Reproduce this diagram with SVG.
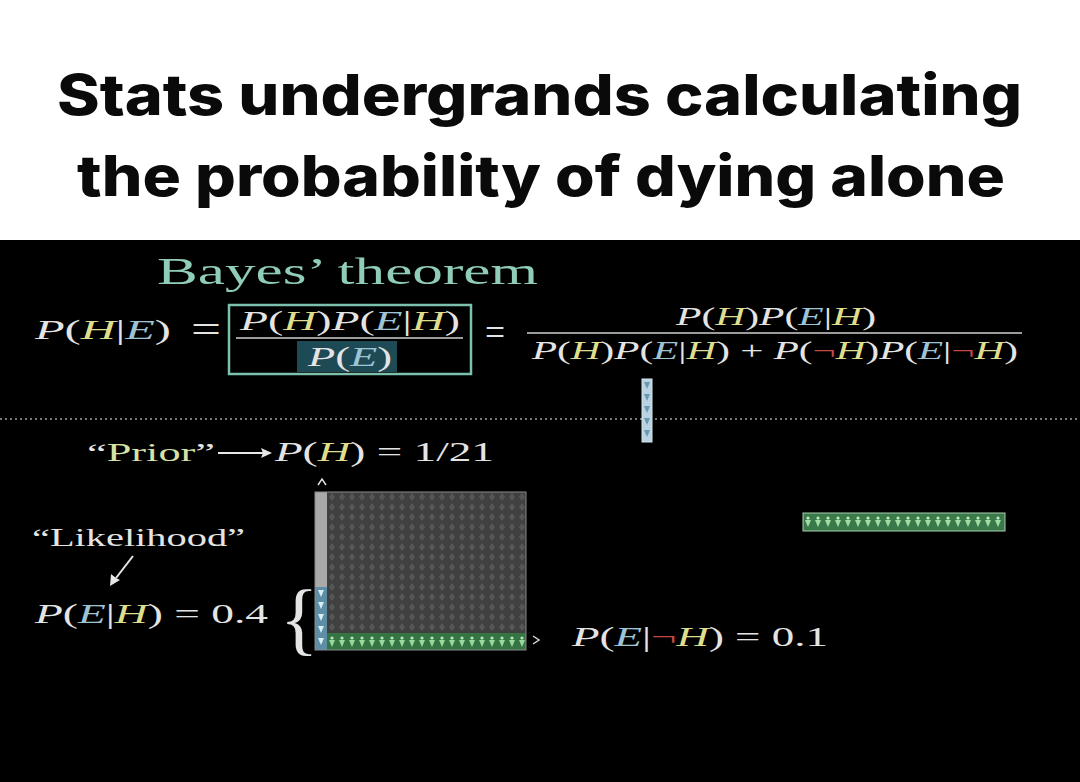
<svg xmlns="http://www.w3.org/2000/svg" width="1080" height="782" viewBox="0 0 1080 782">
<defs>
<style>
.title{font-family:Inter,"Liberation Sans",sans-serif;font-weight:800;font-size:56px;fill:#0a0a0a}
.m{font-family:"Liberation Serif","DejaVu Serif",serif;fill:#e4e4e4}
.i{font-style:italic}
.h{font-style:italic;fill:#dede8c}
.e{font-style:italic;fill:#9cc4d6}
.n{fill:#c84848}
</style>
<pattern id="grey" width="10" height="10" patternUnits="userSpaceOnUse" x="327" y="492">
<rect width="10" height="10" fill="#3f403f"/>
<path d="M5,1 L8,5 L5,9 L2,5 Z" fill="#555755"/>
</pattern>
<pattern id="green" width="10" height="17" patternUnits="userSpaceOnUse" x="327" y="633">
<rect width="10" height="17" fill="#357544"/>
<circle cx="5" cy="5" r="1.6" fill="#b8e8b8"/>
<path d="M2,7 L8,7 L5,14 Z" fill="#9ad89c"/>
</pattern>
<pattern id="green2" width="10" height="18" patternUnits="userSpaceOnUse" x="803" y="513">
<rect width="10" height="18" fill="#3a7a4a"/>
<circle cx="5" cy="5" r="1.6" fill="#c0ecc0"/>
<path d="M2,7 L8,7 L5,14 Z" fill="#a4dca6"/>
</pattern>
<pattern id="blue" width="12" height="12" patternUnits="userSpaceOnUse" x="315" y="587">
<rect width="12" height="12" fill="#5e8ea6"/>
<path d="M3,3 L9,3 L6,10 Z" fill="#d8ecf4"/>
</pattern>
<pattern id="blue2" width="10" height="12" patternUnits="userSpaceOnUse" x="642" y="379">
<rect width="10" height="12" fill="#b8d4e2"/>
<path d="M2,3 L8,3 L5,10 Z" fill="#6e98b0"/>
</pattern>
</defs>

<rect x="0" y="0" width="1080" height="782" fill="#ffffff"/>
<rect x="0" y="240" width="1080" height="542" fill="#000000"/>

<g id="title">
<text class="title" x="57" y="115" textLength="965" lengthAdjust="spacingAndGlyphs">Stats undergrands calculating</text>
<text class="title" x="77" y="196" textLength="928" lengthAdjust="spacingAndGlyphs">the probability of dying alone</text>
</g>

<g id="bayes-title">
<text class="m" x="157" y="284" font-size="38" style="fill:#8fcdb6" textLength="381" lengthAdjust="spacingAndGlyphs">Bayes’ theorem</text>
</g>

<g id="lhs">
<text class="m" x="35" y="339" font-size="27" textLength="136" lengthAdjust="spacingAndGlyphs"><tspan class="i">P</tspan>(<tspan class="h">H</tspan>|<tspan class="e">E</tspan>)</text>
<text class="m" x="191" y="343" font-size="40" textLength="30" lengthAdjust="spacingAndGlyphs">=</text>
</g>

<g id="boxed-fraction">
<rect x="297" y="341" width="100" height="31" fill="#1e4a55"/>
<rect x="229" y="305" width="242" height="69" fill="none" stroke="#7cc0ae" stroke-width="2.5"/>
<text class="m" x="240" y="330" font-size="27" textLength="220" lengthAdjust="spacingAndGlyphs"><tspan class="i">P</tspan>(<tspan class="h">H</tspan>)<tspan class="i">P</tspan>(<tspan class="e">E</tspan>|<tspan class="h">H</tspan>)</text>
<line x1="236" y1="338" x2="463" y2="338" stroke="#d0d0d0" stroke-width="1.5"/>
<text class="m" x="308" y="366" font-size="27" textLength="84" lengthAdjust="spacingAndGlyphs"><tspan class="i">P</tspan>(<tspan class="e">E</tspan>)</text>
</g>

<g id="rhs">
<text class="m" x="485" y="346" font-size="40" textLength="20" lengthAdjust="spacingAndGlyphs">=</text>
<text class="m" x="676" y="325" font-size="25" textLength="200" lengthAdjust="spacingAndGlyphs"><tspan class="i">P</tspan>(<tspan class="h">H</tspan>)<tspan class="i">P</tspan>(<tspan class="e">E</tspan>|<tspan class="h">H</tspan>)</text>
<line x1="527" y1="333" x2="1022" y2="333" stroke="#d0d0d0" stroke-width="1.5"/>
<text class="m" x="532" y="359" font-size="25" textLength="486" lengthAdjust="spacingAndGlyphs"><tspan class="i">P</tspan>(<tspan class="h">H</tspan>)<tspan class="i">P</tspan>(<tspan class="e">E</tspan>|<tspan class="h">H</tspan>) + <tspan class="i">P</tspan>(<tspan class="n">¬</tspan><tspan class="h">H</tspan>)<tspan class="i">P</tspan>(<tspan class="e">E</tspan>|<tspan class="n">¬</tspan><tspan class="h">H</tspan>)</text>
</g>

<line x1="0" y1="419" x2="1080" y2="419" stroke="#7a7a7a" stroke-width="2" stroke-dasharray="2 3"/>

<g id="evidence-bar">
<rect x="642" y="379" width="10" height="63" fill="url(#blue2)" stroke="#d0e4ee" stroke-width="1"/>
</g>

<g id="prior">
<text class="m" x="87" y="461" font-size="25" textLength="128" lengthAdjust="spacingAndGlyphs">“<tspan fill="#d6e2a6">Prior</tspan>”</text>
<text class="m" x="275" y="461" font-size="27" textLength="219" lengthAdjust="spacingAndGlyphs"><tspan class="i">P</tspan>(<tspan class="h">H</tspan>) = 1/21</text>
</g>

<g id="likelihood">
<text class="m" x="32" y="546" font-size="25" textLength="213" lengthAdjust="spacingAndGlyphs">“Likelihood”</text>
<text class="m" x="35" y="623" font-size="27" textLength="233" lengthAdjust="spacingAndGlyphs"><tspan class="i">P</tspan>(<tspan class="e">E</tspan>|<tspan class="h">H</tspan>) = 0.4</text>
<text class="m" x="280" y="645" font-size="80" font-weight="300">{</text>
</g>

<g id="population-grid">
<path d="M318,485 L322,479 L326,485" fill="none" stroke="#e0e0e0" stroke-width="1.5"/>
<rect x="327" y="492" width="199" height="141" fill="url(#grey)"/>
<rect x="315" y="492" width="12" height="95" fill="#a9a9a9"/>
<rect x="315" y="587" width="12" height="63" fill="url(#blue)"/>
<rect x="327" y="633" width="199" height="17" fill="url(#green)"/>
<rect x="315" y="492" width="211" height="158" fill="none" stroke="#8a8a8a" stroke-width="1"/>
</g>

<g id="not-h-likelihood">
<path d="M533,636 L539,640 L533,644" fill="none" stroke="#d8d8d8" stroke-width="1.5"/>
<text class="m" x="572" y="646" font-size="27" textLength="256" lengthAdjust="spacingAndGlyphs"><tspan class="i">P</tspan>(<tspan class="e">E</tspan>|<tspan class="n">¬</tspan><tspan class="h">H</tspan>) = 0.1</text>
</g>

<g id="green-bar">
<rect x="803" y="513" width="202" height="18" fill="url(#green2)" stroke="#a8d0b0" stroke-width="1"/>
</g>

<g id="connectors" stroke="#e8e8e8" fill="#e8e8e8">
<line x1="218" y1="453" x2="263" y2="453" stroke-width="2"/>
<polygon points="272,453 261,448 263,453 261,458" stroke="none"/>
<line x1="133" y1="556" x2="116" y2="578" stroke-width="2"/>
<polygon points="110,586 111,574 116,578 120,580" stroke="none"/>
</g>
</svg>
